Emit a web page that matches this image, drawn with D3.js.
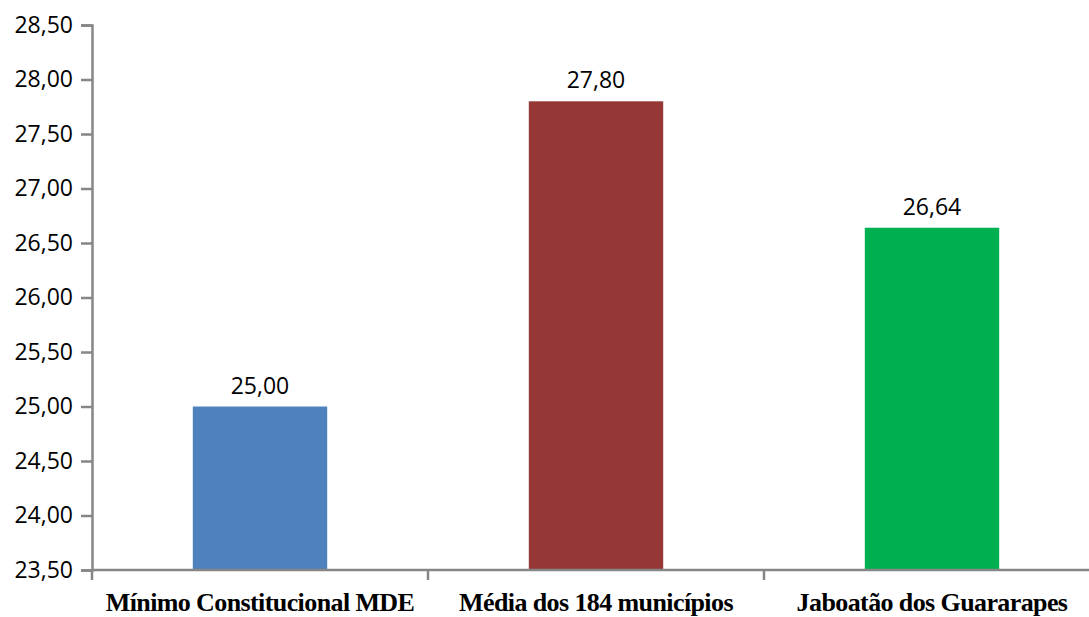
<!DOCTYPE html>
<html><head><meta charset="utf-8">
<script src="https://cdn.jsdelivr.net/npm/d3@7"></script>
<style>html,body{margin:0;padding:0;background:#fff;}</style>
</head><body>
<svg id="c" width="1089" height="617"></svg>
<script>
const categories = ["Mínimo Constitucional MDE", "Média dos 184 municípios", "Jaboatão dos Guararapes"];
const values = [25.00, 27.80, 26.64];
const colors = ["#4F81BD", "#953735", "#00B050"];
const yTicks = [23.5, 24, 24.5, 25, 25.5, 26, 26.5, 27, 27.5, 28, 28.5];

const svg = d3.select("#c");
const fmt = v => v.toFixed(2).replace(".", ",");
const x = d3.scaleBand().domain(categories).range([92, 1100]).paddingInner(0.6).paddingOuter(0.3);
const y = d3.scaleLinear().domain([23.5, 28.5]).range([570, 25]);
const axisColor = "#868686";

// bars
svg.selectAll("rect.bar").data(values).enter().append("rect")
  .attr("x", (d, i) => x(categories[i]))
  .attr("width", x.bandwidth())
  .attr("y", d => y(d))
  .attr("height", d => y(23.5) - y(d))
  .attr("fill", (d, i) => colors[i]);

// value labels
svg.selectAll("text.val").data(values).enter().append("text")
  .attr("x", (d, i) => x(categories[i]) + x.bandwidth() / 2)
  .attr("y", d => y(d) - 13)
  .attr("text-anchor", "middle")
  .attr("font-family", "'Open Sans', sans-serif")
  .attr("font-size", 23)
  .attr("fill", "#000")
  .text(d => fmt(d));

// y axis
const yAxis = d3.axisLeft(y).tickValues(yTicks).tickFormat(fmt).tickSize(11).tickPadding(8);
const gy = svg.append("g").attr("transform", "translate(92,0)").call(yAxis);
gy.select(".domain").attr("stroke", axisColor).attr("stroke-width", 2.5);
gy.selectAll(".tick line").attr("stroke", axisColor).attr("stroke-width", 2.5);
gy.selectAll(".tick text").attr("font-family", "'Open Sans', sans-serif").attr("font-size", 23).attr("fill", "#000");

// x axis
const boundaries = [0, 1, 2, 3].map(i => 92 + i * x.step());
svg.append("line").attr("x1", 92).attr("x2", 1100).attr("y1", y(23.5)).attr("y2", y(23.5))
  .attr("stroke", axisColor).attr("stroke-width", 2.5);
svg.selectAll("line.xt").data(boundaries).enter().append("line")
  .attr("x1", d => d).attr("x2", d => d).attr("y1", y(23.5)).attr("y2", y(23.5) + 10)
  .attr("stroke", axisColor).attr("stroke-width", 2.5);
svg.selectAll("text.cat").data(categories).enter().append("text")
  .attr("x", d => x(d) + x.bandwidth() / 2)
  .attr("y", 610.5)
  .attr("text-anchor", "middle")
  .attr("font-family", "'Liberation Serif', 'Times New Roman', serif")
  .attr("font-weight", "bold")
  .attr("font-size", 26)
  .attr("letter-spacing", -0.6)
  .attr("fill", "#000")
  .text(d => d);
</script>
</body></html>
